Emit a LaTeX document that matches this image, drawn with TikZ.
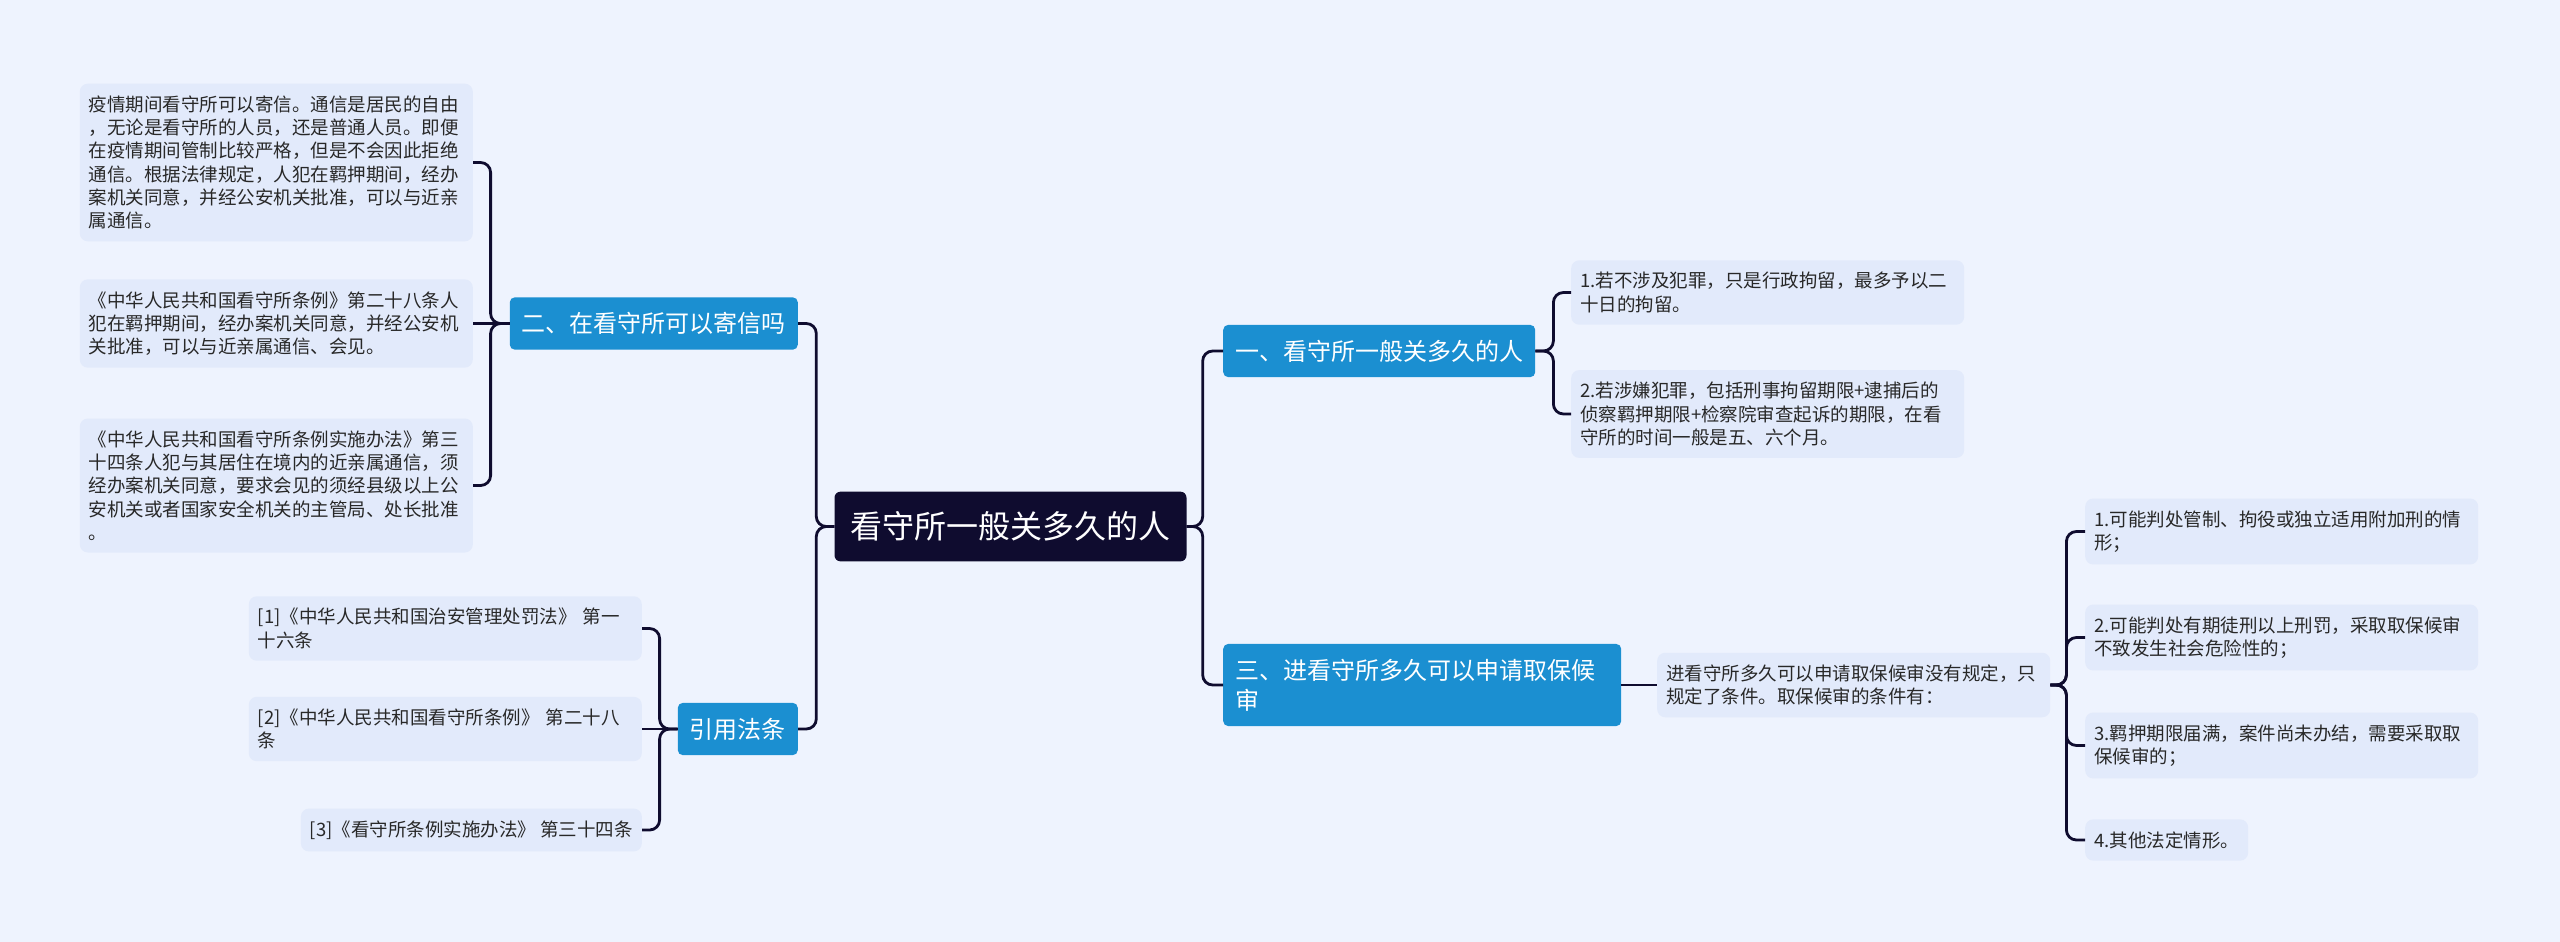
\documentclass[tikz,border=0pt]{standalone}
\usepackage{fontspec}
\newfontfamily\cjk{Noto Sans CJK SC}
\definecolor{bgblue}{RGB}{238,243,254}
\definecolor{leafblue}{RGB}{226,234,251}
\definecolor{secblue}{RGB}{27,143,209}
\definecolor{rootnavy}{RGB}{15,12,47}
\definecolor{linenavy}{RGB}{15,12,47}
\definecolor{textgray}{RGB}{40,40,40}
\tikzset{
    mainnode/.style={rectangle, rounded corners=6pt, fill=rootnavy, text=white, font=\cjk\fontsize{32}{38}\selectfont, inner xsep=16pt, inner ysep=20pt},
    secbox/.style={rectangle, rounded corners=5pt, fill=secblue, text=white, font=\cjk\fontsize{24}{30}\selectfont, align=left, inner xsep=12pt, inner ysep=15pt},
    leaf/.style={rectangle, rounded corners=8pt, fill=leafblue, text=textgray, font=\cjk\fontsize{18.5}{23.3}\selectfont, align=left, inner xsep=9pt, inner ysep=12pt},
    wideleaf/.style={leaf, text width=375pt},
    link/.style={draw=linenavy, line width=2.8pt, rounded corners=10pt}
}
\begin{document}
\begin{tikzpicture}[x=1pt, y=-1pt]
    \fill[bgblue] (0,0) rectangle (2560,942);
    \useasboundingbox (0,0) rectangle (2560,942);

    \node[mainnode] (root) at (1010.5,526.5) {看守所一般关多久的人};

    % left side
    \node[secbox, anchor=east] (secMail) at (798,323.5) {二、在看守所可以寄信吗};
    \node[secbox, anchor=east] (secCite) at (798,729) {引用法条};
    \node[wideleaf, anchor=east] (mailA) at (473,162.5) {疫情期间看守所可以寄信。通信是居民的自由\\，无论是看守所的人员，还是普通人员。即便\\在疫情期间管制比较严格，但是不会因此拒绝\\通信。根据法律规定，人犯在羁押期间，经办\\案机关同意，并经公安机关批准，可以与近亲\\属通信。};
    \node[wideleaf, anchor=east] (mailB) at (473,323.5) {《中华人民共和国看守所条例》第二十八条人\\犯在羁押期间，经办案机关同意，并经公安机\\关批准，可以与近亲属通信、会见。};
    \node[wideleaf, anchor=east] (mailC) at (473,485.5) {《中华人民共和国看守所条例实施办法》第三\\十四条人犯与其居住在境内的近亲属通信，须\\经办案机关同意，要求会见的须经县级以上公\\安机关或者国家安全机关的主管局、处长批准\\。};
    \node[wideleaf, anchor=east] (citeA) at (642,628.5) {[1]《中华人民共和国治安管理处罚法》 第一\\十六条};
    \node[wideleaf, anchor=east] (citeB) at (642,729) {[2]《中华人民共和国看守所条例》 第二十八\\条};
    \node[leaf, anchor=east] (citeC) at (642,830) {[3]《看守所条例实施办法》 第三十四条};

    % right side
    \node[secbox, anchor=west] (secLen) at (1223,351) {一、看守所一般关多久的人};
    \node[secbox, anchor=west, text width=374pt] (secBail) at (1223,685) {三、进看守所多久可以申请取保候\\审};
    \node[wideleaf, anchor=west] (lenA) at (1571,292.5) {1.若不涉及犯罪，只是行政拘留，最多予以二\\十日的拘留。};
    \node[wideleaf, anchor=west] (lenB) at (1571,414) {2.若涉嫌犯罪，包括刑事拘留期限+逮捕后的\\侦察羁押期限+检察院审查起诉的期限，在看\\守所的时间一般是五、六个月。};
    \node[wideleaf, anchor=west] (bailNote) at (1657,685) {进看守所多久可以申请取保候审没有规定，只\\规定了条件。取保候审的条件有：};
    \node[wideleaf, anchor=west] (bailA) at (2085,531.5) {1.可能判处管制、拘役或独立适用附加刑的情\\形；};
    \node[wideleaf, anchor=west] (bailB) at (2085,637.5) {2.可能判处有期徒刑以上刑罚，采取取保候审\\不致发生社会危险性的；};
    \node[wideleaf, anchor=west] (bailC) at (2085,745.5) {3.羁押期限届满，案件尚未办结，需要采取取\\保候审的；};
    \node[leaf, anchor=west] (bailD) at (2085,840) {4.其他法定情形。};

    % connectors
    \foreach \c in {secMail,secCite}
        \draw[link] (root.west) -- ++(-18,0) |- (\c.east);
    \foreach \c in {secLen,secBail}
        \draw[link] (root.east) -- ++(16,0) |- (\c.west);
    \foreach \c in {mailA,mailC}
        \draw[link] (secMail.west) -- ++(-19,0) |- (\c.east);
    \draw[link] (secMail.west) -- (mailB.east);
    \foreach \c in {citeA,citeC}
        \draw[link] (secCite.west) -- ++(-18,0) |- (\c.east);
    \draw[link] (secCite.west) -- (citeB.east);
    \foreach \c in {lenA,lenB}
        \draw[link] (secLen.east) -- ++(18,0) |- (\c.west);
    \draw[link] (secBail.east) -- (bailNote.west);
    \foreach \c in {bailA,bailB,bailC,bailD}
        \draw[link] (bailNote.east) -- ++(16,0) |- (\c.west);
\end{tikzpicture}
\end{document}
